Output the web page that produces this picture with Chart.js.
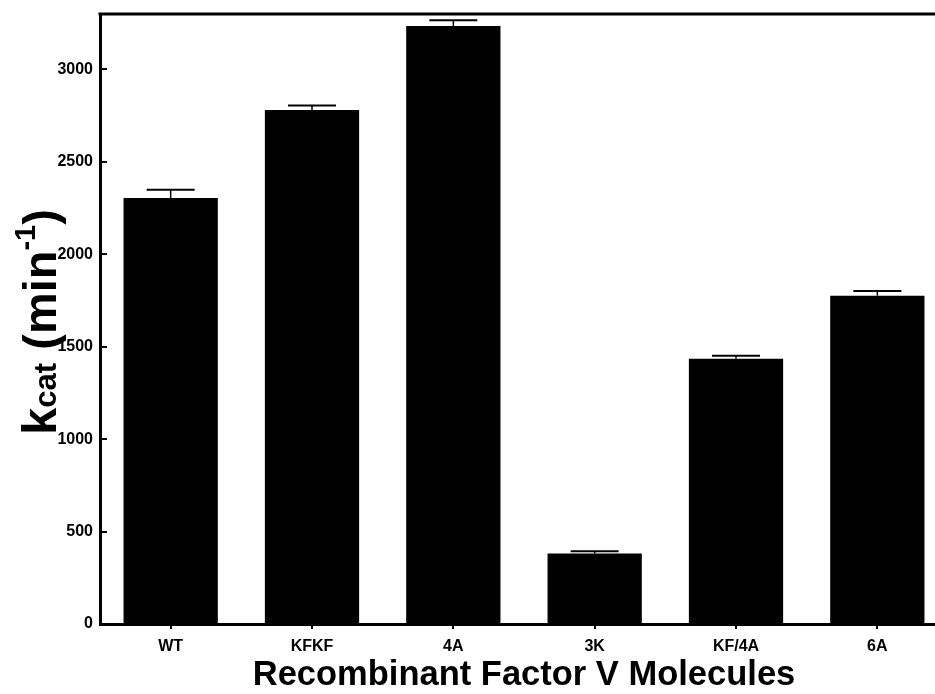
<!DOCTYPE html>
<html>
<head>
<meta charset="utf-8">
<script src="https://cdn.jsdelivr.net/npm/chart.js@4/dist/chart.umd.min.js"></script>
<style>
  html, body { margin: 0; padding: 0; background: #fff; overflow: hidden; }
  #wrap { width: 935px; height: 694px; overflow: hidden; position: relative; }
  #box { width: 948px; height: 694px; }
</style>
</head>
<body>
<div id="wrap"><div id="box"><canvas id="kcat"></canvas></div></div>
<script>
const molecules = ['WT', 'KFKF', '4A', '3K', 'KF/4A', '6A'];
const kcatValues = [2305, 2781, 3235, 381, 1435, 1776];
const kcatErrors = [44, 24, 31, 13, 16, 25];
const yTicks = [0, 500, 1000, 1500, 2000, 2500, 3000];

const FONT = "'Liberation Sans', Arial, Helvetica, sans-serif";

// upward-only error bars, inward y ticks, top frame line
const decorPlugin = {
  id: 'decor',
  afterDatasetsDraw(chart) {
    const { ctx, chartArea, scales: { x, y } } = chart;
    ctx.save();
    ctx.strokeStyle = '#000';

    kcatValues.forEach((v, i) => {
      const cx = x.getPixelForValue(i);
      const yTop = y.getPixelForValue(v);
      const yCap = y.getPixelForValue(v + kcatErrors[i]);
      ctx.lineWidth = 1.5;
      ctx.beginPath();
      ctx.moveTo(cx, yTop);
      ctx.lineTo(cx, yCap);
      ctx.stroke();
      ctx.lineWidth = 2;
      ctx.beginPath();
      ctx.moveTo(cx - 24, yCap);
      ctx.lineTo(cx + 24, yCap);
      ctx.stroke();
    });

    // tick marks pointing into the plot
    ctx.lineWidth = 2;
    yTicks.forEach(t => {
      if (t === 0) return;
      const py = Math.round(y.getPixelForValue(t));
      ctx.beginPath();
      ctx.moveTo(chartArea.left, py);
      ctx.lineTo(chartArea.left + 7, py);
      ctx.stroke();
    });

    // top frame
    ctx.lineWidth = 3;
    ctx.beginPath();
    ctx.moveTo(chartArea.left - 1.5, chartArea.top);
    ctx.lineTo(chartArea.right, chartArea.top);
    ctx.stroke();
    ctx.restore();
  },
  afterDraw(chart) {
    const { ctx } = chart;
    ctx.save();
    ctx.fillStyle = '#000';

    // x axis title
    ctx.font = `bold 34.5px ${FONT}`;
    ctx.textAlign = 'center';
    ctx.textBaseline = 'alphabetic';
    ctx.fillText('Recombinant Factor V Molecules', 524, 685);

    // y axis title with subscript / superscript
    const parts = [
      { t: 'k', size: 49, dy: 0 },
      { t: 'cat', size: 31, dy: 0 },
      { t: ' (min', size: 47, dy: 0 },
      { t: '-1', size: 29, dy: -21 },
      { t: ')', size: 47, dy: 0 }
    ];
    let total = 0;
    parts.forEach(p => {
      ctx.font = `bold ${p.size}px ${FONT}`;
      p.w = ctx.measureText(p.t).width;
      total += p.w;
    });
    ctx.translate(56, 322);
    ctx.rotate(-Math.PI / 2);
    ctx.textAlign = 'left';
    ctx.textBaseline = 'alphabetic';
    let px = -total / 2;
    parts.forEach(p => {
      ctx.font = `bold ${p.size}px ${FONT}`;
      ctx.fillText(p.t, px, p.dy);
      px += p.w;
    });
    ctx.restore();
  }
};

new Chart(document.getElementById('kcat'), {
  type: 'bar',
  data: {
    labels: molecules,
    datasets: [{
      data: kcatValues,
      backgroundColor: '#000',
      borderWidth: 0,
      barPercentage: 0.667,
      categoryPercentage: 1
    }]
  },
  options: {
    responsive: true,
    maintainAspectRatio: false,
    animation: false,
    layout: { padding: { top: 14, right: 0, left: 0, bottom: 0 } },
    plugins: {
      legend: { display: false },
      tooltip: { enabled: false }
    },
    scales: {
      x: {
        grid: {
          offset: false,
          drawOnChartArea: false,
          drawTicks: true,
          tickLength: 5,
          lineWidth: 2,
          color: '#000'
        },
        border: { display: true, color: '#000', width: 3 },
        ticks: {
          color: '#000',
          font: { family: FONT, size: 16, weight: 'bold' },
          padding: 8,
          maxRotation: 0
        },
        afterFit: s => { s.height = 70; s.paddingLeft = 0; s.paddingRight = 0; }
      },
      y: {
        min: 0,
        max: 3300,
        grid: { display: false, drawTicks: false },
        border: { display: true, color: '#000', width: 3 },
        afterBuildTicks: s => { s.ticks = yTicks.map(v => ({ value: v })); },
        ticks: {
          color: '#000',
          font: { family: FONT, size: 16, weight: 'bold' },
          padding: 7,
          callback: v => String(v)
        },
        afterFit: s => { s.width = 100; s.paddingTop = 0; s.paddingBottom = 0; }
      }
    }
  },
  plugins: [decorPlugin]
});
</script>
</body>
</html>
